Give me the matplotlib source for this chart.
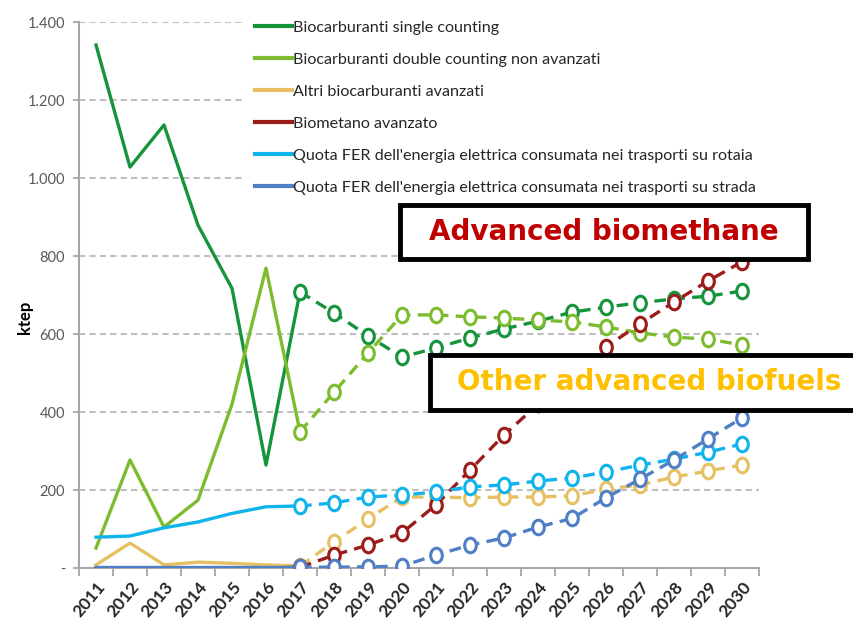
import numpy as np
import matplotlib.pyplot as plt
from matplotlib.patches import Rectangle
from matplotlib.path import Path
from matplotlib.transforms import Affine2D

plt.rcParams['font.family'] = ['Lato', 'DejaVu Sans']

years = list(range(2011, 2031))
ylabels = ['-', '200', '400', '600', '800', '1.000', '1.200', '1.400']

# valori (ktep); 2011-2017 storico, 2017-2030 previsione
single = [1341, 1028, 1136, 879, 717, 264, 708, 654, 595, 541, 564, 590, 613, 633, 656, 669, 680, 690, 697, 710]
double = [51, 277, 105, 174, 420, 769, 349, 451, 551, 649, 649, 644, 641, 636, 631, 618, 603, 592, 587, 572]
altri = [8, 64, 8, 15, 12, 8, 5, 67, 126, 182, 182, 180, 182, 182, 185, 202, 213, 233, 249, 264]
biometano = [0, 0, 0, 0, 0, 0, 2, 33, 59, 90, 162, 251, 341, 420, 495, 567, 626, 682, 736, 785]
rotaia = [79, 82, 103, 118, 140, 157, 159, 167, 182, 187, 195, 208, 213, 223, 231, 246, 264, 279, 297, 318]
strada = [2, 2, 2, 2, 2, 2, 2, 2, 3, 5, 33, 59, 77, 105, 127, 180, 228, 277, 331, 385]

series = [
    ('Biocarburanti single counting', single, '#15943c'),
    ('Biocarburanti double counting non avanzati', double, '#7cbc2e'),
    ('Altri biocarburanti avanzati', altri, '#e6c063'),
    ('Biometano avanzato', biometano, '#9c1b1b'),
    ("Quota FER dell'energia elettrica consumata nei trasporti su rotaia", rotaia, '#10b4ec'),
    ("Quota FER dell'energia elettrica consumata nei trasporti su strada", strada, '#4f7fc4'),
]

# cerchio un po' allungato in verticale, come nell'immagine
oval = Path.unit_circle().transformed(Affine2D().scale(0.8, 1.0))

fig = plt.figure(figsize=(8.54, 6.36), dpi=100)
ax = fig.add_axes([79/854, (636-568)/636, 680/854, 546/636])

x = np.arange(len(years))
split = 6  # indice del 2017
for name, vals, col in series:
    v = np.array(vals, dtype=float)
    ax.plot(x[:split+1], v[:split+1], color=col, lw=2.4, label=name, zorder=3)
    ax.plot(x[split:], v[split:], color=col, lw=2.4, dashes=(3.5, 2.2),
            marker=oval, ms=10.5, mfc='white', mec=col, mew=2.2, zorder=4)

ax.set_xlim(-0.5, len(years) - 0.5)
ax.set_ylim(0, 1400)
ax.set_yticks(np.arange(0, 1401, 200))
ax.set_yticklabels(ylabels, color='#595959', fontsize=10.5)
ax.set_xticks(x)
ax.set_xticklabels([str(y) for y in years], rotation=50, ha='right',
                   rotation_mode='anchor', fontsize=12.5, fontweight='bold', color='#262626')
ax.set_xticks(np.arange(-0.5, len(years)), minor=True)
ax.tick_params(axis='x', which='major', length=0, pad=8)
ax.tick_params(axis='x', which='minor', length=6, color='#a6a6a6', width=1.3)
ax.tick_params(axis='y', length=4, color='#a6a6a6', width=1.3, pad=6)

for yv in range(200, 1401, 200):
    ax.axhline(yv, color='#bfbfbf', lw=1.5, dashes=(3, 2), zorder=1)

for s in ['top', 'right']:
    ax.spines[s].set_visible(False)
for s in ['left', 'bottom']:
    ax.spines[s].set_color('#a6a6a6')
    ax.spines[s].set_linewidth(1.5)

ax.set_ylabel('ktep', fontsize=12, fontweight='bold')
ax.yaxis.set_label_coords(-0.068, 0.46)

leg = ax.legend(loc='upper left', bbox_to_anchor=(245/854, 1 - 11/636),
                bbox_transform=fig.transFigure, fontsize=11.6, frameon=True,
                facecolor='white', edgecolor='none', framealpha=1,
                handlelength=2.3, handletextpad=0.1, labelspacing=1.1,
                borderpad=0.6, borderaxespad=0)
leg.set_zorder(5)
for t in leg.get_texts():
    t.set_color('#262626')
for h in leg.get_lines():
    h.set_linewidth(3)

# riquadri di commento: (testo, colore, x0, y0, x1, y1, centro testo x) in pixel
boxes = [
    ('Advanced biomethane', '#c00000', 400, 205, 808, 259, 604),
    ('Other advanced biofuels', '#ffc000', 430, 355, 860, 410, 649),
]
for txt, col, x0, y0, x1, y1, xc in boxes:
    r = Rectangle((x0/854, 1 - y1/636), (x1 - x0)/854, (y1 - y0)/636,
                  transform=fig.transFigure, facecolor='white', edgecolor='black',
                  lw=3.5, zorder=10)
    fig.patches.append(r)
    fig.text(xc/854, 1 - (y0 + y1)/2/636, txt,
             color=col, fontsize=20, fontweight='bold', family='DejaVu Sans',
             ha='center', va='center', zorder=11)

fig.savefig('out.png', dpi=100)
